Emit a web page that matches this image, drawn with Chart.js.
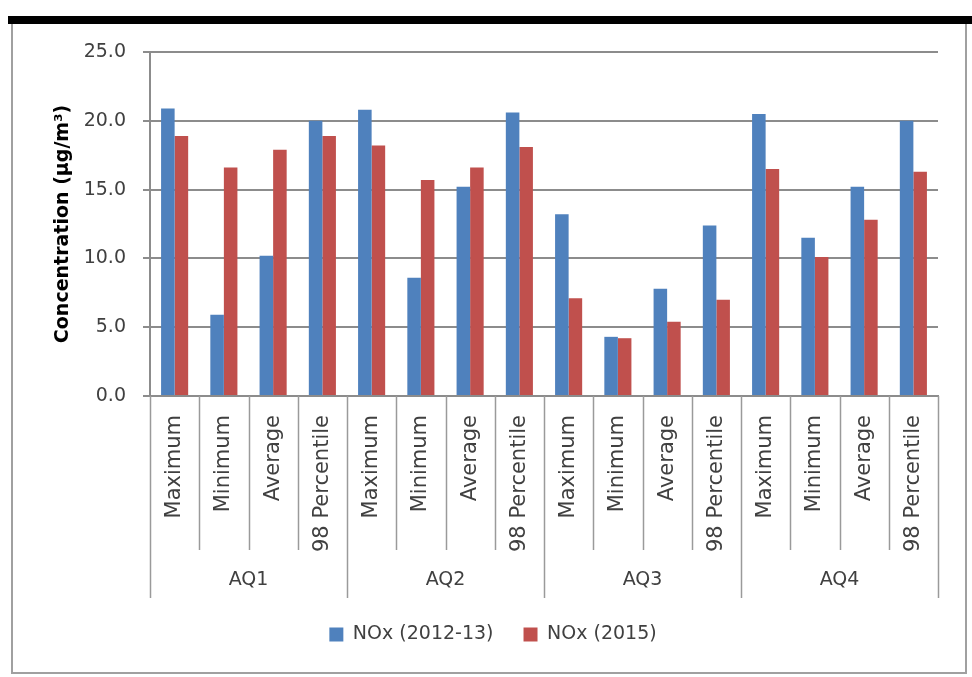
<!DOCTYPE html>
<html>
<head>
<meta charset="utf-8">
<script src="https://cdn.jsdelivr.net/npm/chart.js@4"></script>
<style>
    html, body { margin: 0; padding: 0; background: #ffffff; }
    #wrap { width: 972px; height: 677px; position: relative; }
</style>
</head>
<body>
<div id="wrap"><canvas id="nox-chart"></canvas></div>
<script>
// Monitoring stations and the statistic shown for each one
let stations = ['AQ1', 'AQ2', 'AQ3', 'AQ4'];
let stats = ['Maximum', 'Minimum', 'Average', '98 Percentile'];

// NOx concentrations (µg/m³), one value per station/statistic, in order
let nox201213 = [20.9, 5.9, 10.2, 20.0, 20.8, 8.6, 15.2, 20.6, 13.2, 4.3, 7.8, 12.4, 20.5, 11.5, 15.2, 20.0];
let nox2015 = [18.9, 16.6, 17.9, 18.9, 18.2, 15.7, 16.6, 18.1, 7.1, 4.2, 5.4, 7.0, 16.5, 10.1, 12.8, 16.3];

// Y axis ticks
let yTicks = [0, 5, 10, 15, 20, 25];

// Build the flat list of category labels (statistic repeated for each station)
let categoryLabels = [];
stations.forEach(s => stats.forEach(t => categoryLabels.push(t)));

let textColor = '#404040';
let lineColor = '#8c8c8c';
let fontFamily = '"DejaVu Sans", sans-serif';

// Frame around the chart plus the thick black bar on top
const framePlugin = {
    id: 'frame',
    beforeDraw(chart) {
        const c = chart.ctx;
        c.save();
        c.fillStyle = '#ffffff';
        c.fillRect(0, 0, chart.width, chart.height);
        c.strokeStyle = '#a0a0a0';
        c.lineWidth = 2;
        c.strokeRect(12, 22, 954, 651);
        c.fillStyle = '#000000';
        c.fillRect(8, 16, chart.width - 8, 8);
        c.restore();
    }
};

// Two level x axis: separators between categories and station labels below
const groupAxisPlugin = {
    id: 'groupAxis',
    afterDraw(chart) {
        const x = chart.scales.x;
        const c = chart.ctx;
        const bottom = chart.chartArea.bottom;
        const half = (x.getPixelForValue(1) - x.getPixelForValue(0)) / 2;
        c.save();
        c.strokeStyle = '#9a9a9a';
        c.lineWidth = 1.5;
        for (let i = 0; i <= categoryLabels.length; i++) {
            const px = Math.round(x.getPixelForValue(i) - half) + 0.5;
            const isGroup = i % stats.length === 0;
            c.beginPath();
            c.moveTo(px, bottom);
            c.lineTo(px, isGroup ? 598 : 550);
            c.stroke();
        }
        c.fillStyle = textColor;
        c.font = '19px ' + fontFamily;
        c.textAlign = 'center';
        c.textBaseline = 'middle';
        stations.forEach((s, g) => {
            const first = x.getPixelForValue(g * stats.length) - half;
            const last = x.getPixelForValue((g + 1) * stats.length - 1) + half;
            c.fillText(s, (first + last) / 2, 580);
        });
        c.restore();
    }
};

let ctx = document.getElementById('nox-chart');

let barChart = new Chart(ctx, {
    type: 'bar',
    data: {
        labels: categoryLabels,
        datasets: [{
            label: 'NOx (2012-13)',
            data: nox201213,
            backgroundColor: '#4f81bd'
        }, {
            label: 'NOx (2015)',
            data: nox2015,
            backgroundColor: '#c0504d'
        }]
    },
    options: {
        responsive: true,
        maintainAspectRatio: false,
        animation: false,
        layout: {
            padding: { top: 52, left: 48, right: 34, bottom: 23 }
        },
        datasets: {
            bar: {
                categoryPercentage: 0.55,
                barPercentage: 1.0
            }
        },
        plugins: {
            legend: {
                position: 'bottom',
                labels: {
                    color: textColor,
                    font: { family: fontFamily, size: 19 },
                    boxWidth: 14,
                    boxHeight: 14,
                    padding: 30
                }
            },
            tooltip: { enabled: false }
        },
        scales: {
            y: {
                min: 0,
                max: 25,
                afterBuildTicks(scale) {
                    scale.ticks = yTicks.map(v => ({ value: v }));
                },
                afterFit(scale) {
                    scale.width = 102;
                },
                title: {
                    display: true,
                    text: 'Concentration (µg/m³)',
                    color: '#000000',
                    font: { family: fontFamily, size: 19, weight: 'bold' }
                },
                ticks: {
                    color: textColor,
                    font: { family: fontFamily, size: 19 },
                    padding: 17,
                    callback: v => v.toFixed(1)
                },
                grid: {
                    color: lineColor,
                    lineWidth: 2,
                    tickLength: 7
                },
                border: { color: lineColor, width: 2 }
            },
            x: {
                afterFit(scale) {
                    scale.height = 199;
                },
                ticks: {
                    color: textColor,
                    font: { family: fontFamily, size: 21 },
                    minRotation: 90,
                    maxRotation: 90,
                    autoSkip: false,
                    padding: 19
                },
                grid: {
                    display: false,
                    drawTicks: false
                },
                border: { color: lineColor, width: 2 }
            }
        }
    },
    plugins: [framePlugin, groupAxisPlugin]
});
</script>
</body>
</html>
